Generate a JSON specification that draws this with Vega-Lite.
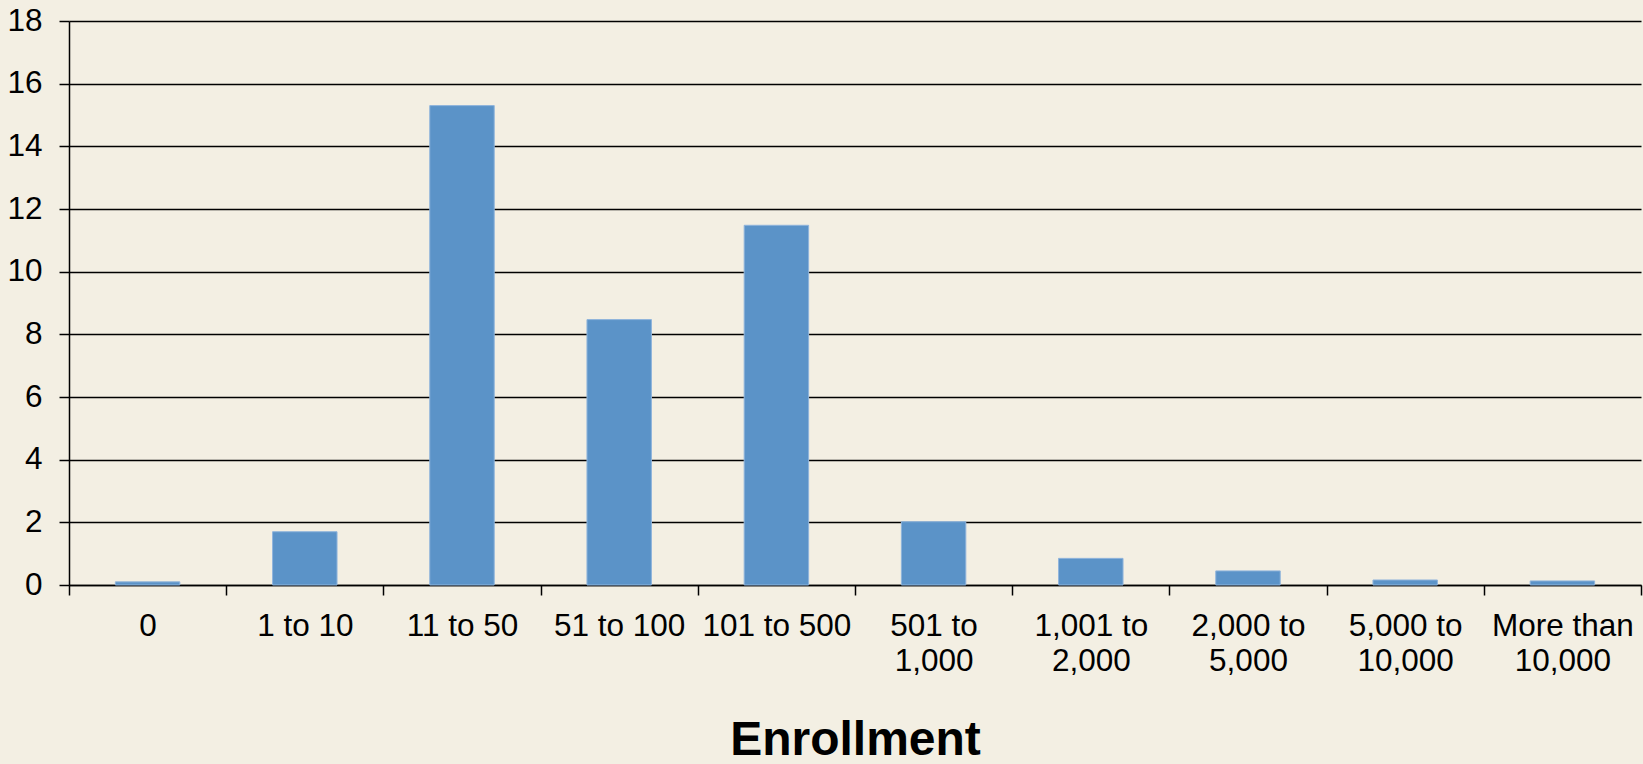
{
  "$schema": "https://vega.github.io/schema/vega-lite/v6.json",
  "autosize": "none",
  "width": 1572,
  "height": 564,
  "padding": {"left": 69, "top": 21, "right": 2, "bottom": 179},
  "background": "#F3EFE3",
  "config": {
    "view": {"stroke": null},
    "font": "Liberation Sans",
    "axis": {
      "labelFont": "Liberation Sans",
      "titleFont": "Liberation Sans",
      "labelColor": "#000000",
      "titleColor": "#000000",
      "domainColor": "#000000",
      "tickColor": "#000000",
      "gridColor": "#000000"
    }
  },
  "data": {
    "values": [
      {"enrollment": "0", "value": 0.1},
      {"enrollment": "1 to 10", "value": 1.7},
      {"enrollment": "11 to 50", "value": 15.3},
      {"enrollment": "51 to 100", "value": 8.47},
      {"enrollment": "101 to 500", "value": 11.48},
      {"enrollment": "501 to 1,000", "value": 2.02},
      {"enrollment": "1,001 to 2,000", "value": 0.85},
      {"enrollment": "2,000 to 5,000", "value": 0.45},
      {"enrollment": "5,000 to 10,000", "value": 0.16},
      {"enrollment": "More than 10,000", "value": 0.13}
    ]
  },
  "mark": {
    "type": "bar",
    "width": {"band": 0.41},
    "color": "#5B93C8",
    "stroke": "#8FB4DC",
    "strokeWidth": 1
  },
  "encoding": {
    "x": {
      "field": "enrollment",
      "type": "nominal",
      "sort": null,
      "scale": {"paddingInner": 0, "paddingOuter": 0},
      "axis": {
        "title": "Enrollment",
        "titleFontSize": 48,
        "titleFontWeight": "bold",
        "titleBaseline": "alphabetic",
        "titleY": 169,
        "labelAngle": 0,
        "labelFontSize": 31.5,
        "labelPadding": 15,
        "labelLineHeight": 35,
        "labelExpr": "length(datum.label) > 10 ? split(replace(replace(datum.label, ' to ', ' to|'), ' than ', ' than|'), '|') : datum.label",
        "tickBand": "extent",
        "tickSize": 10,
        "tickWidth": 1.5,
        "domainWidth": 1.5,
        "grid": false
      }
    },
    "y": {
      "field": "value",
      "type": "quantitative",
      "scale": {"domain": [0, 18], "nice": false},
      "axis": {
        "title": null,
        "values": [0, 2, 4, 6, 8, 10, 12, 14, 16, 18],
        "labelFontSize": 31.5,
        "labelPadding": 17,
        "tickSize": 10,
        "tickWidth": 1.5,
        "domainWidth": 1.5,
        "grid": true,
        "gridWidth": 1.5,
        "gridOpacity": 1
      }
    }
  }
}
